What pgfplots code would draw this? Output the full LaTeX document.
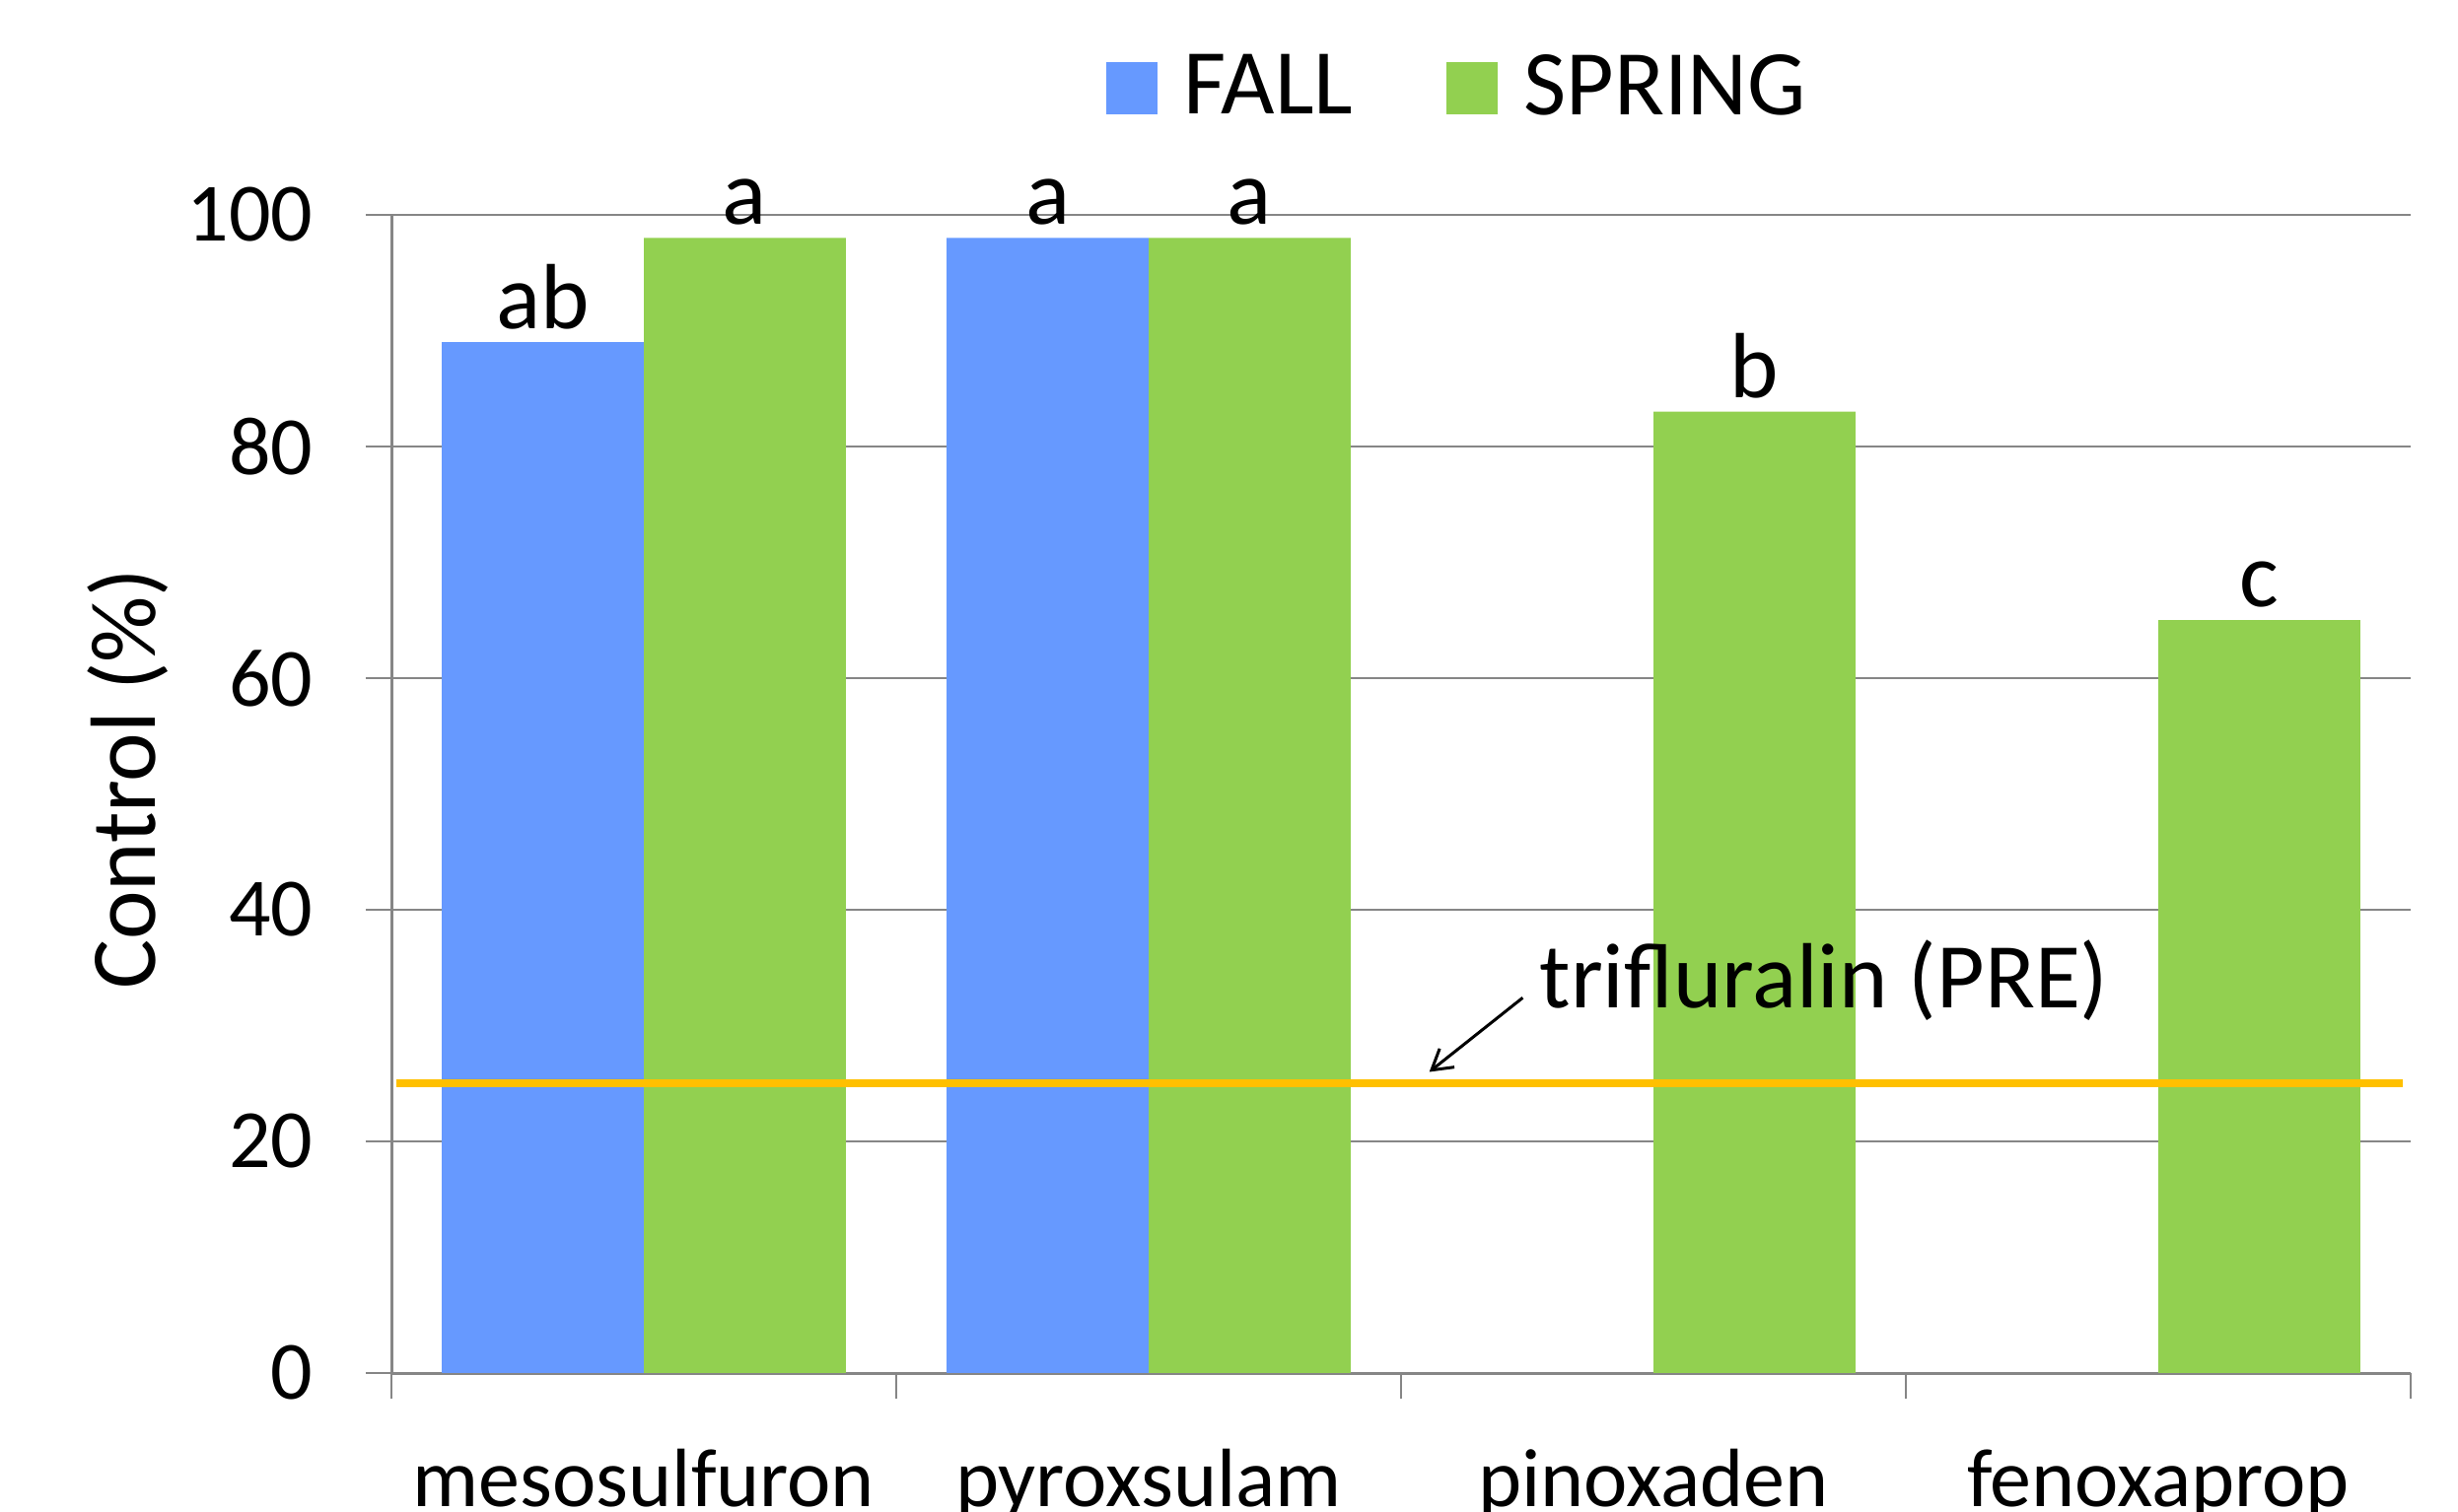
\documentclass[border=0pt]{standalone}
\usepackage{pgfplots}
\pgfplotsset{compat=1.18}
\usepackage{fontspec}
\setmainfont{Carlito}
\usetikzlibrary{arrows.meta}
\definecolor{fallc}{HTML}{6699FF}
\definecolor{springc}{HTML}{92D050}
\definecolor{goldc}{HTML}{FFC000}
\definecolor{gridc}{HTML}{868686}
\newcommand{\fbig}{\fontsize{23.5bp}{28bp}\selectfont}
\newcommand{\ftick}{\fontsize{21bp}{25bp}\selectfont}
\begin{document}
\begin{tikzpicture}
\useasboundingbox (0,0) rectangle (623.25bp,383.5bp);
\begin{axis}[
  at={(99.25bp,35.25bp)}, anchor=south west,
  scale only axis, width=512bp, height=293.75bp,
  xmin=-0.5, xmax=3.5, ymin=0, ymax=100,
  axis lines*=left,
  axis line style={gridc, line width=0.75bp},
  ymajorgrids, grid style={gridc, line width=0.6bp},
  ytick={0,20,...,100},
  xtick={-0.5,0.5,1.5,2.5,3.5}, xticklabels={},
  extra x ticks={0,1,2,3},
  extra x tick labels={mesosulfuron,pyroxsulam,pinoxaden,fenoxaprop},
  extra x tick style={major tick length=0pt,
    xticklabel style={anchor=base, inner sep=0pt, yshift=-33.75bp, font=\ftick}},
  tick align=outside, major tick length=6.5bp,
  tick style={gridc, line width=0.6bp},
  /pgf/number format/assume math mode=true,
  yticklabel style={anchor=east, inner sep=0pt, xshift=-13.25bp, font=\ftick},
  ylabel={Control (\%)},
  ylabel style={at={(axis description cs:-0.1306,0.513)}, anchor=center, font=\fbig},
  ybar, bar width=0.4,
  legend columns=2,
  legend image code/.code={\fill[#1] (0bp,-6.75bp) rectangle (13bp,6.5bp);},
  legend style={at={(axis description cs:0.3535,1.0809)}, anchor=south west,
    draw=none, fill=none, inner sep=0pt, font=\fbig,
    nodes={inner sep=0pt},
    /tikz/every odd column/.append style={column sep=6.75bp},
    /tikz/every even column/.append style={column sep=23.6bp}},
  barlabel/.style={nodes near coords, point meta=explicit symbolic,
    every node near coord/.append style={anchor=base, yshift=3.5bp, inner sep=0pt, font=\fbig, text=black}},
]
\addplot[fill=fallc, draw=none, bar shift=-0.2, barlabel] coordinates {(0,89) [ab] (1,98) [a]};
\addplot[fill=springc, draw=none, bar shift=0.2, barlabel] coordinates {(0,98) [a] (1,98) [a] (2,83) [b] (3,65) [c]};
\legend{FALL,SPRING}
\addplot[sharp plot, goldc, line width=2bp, forget plot] coordinates {(-0.49,25) (3.485,25)};
\node[anchor=base west, inner sep=0pt, font=\fbig] at (axis cs:1.773,31.5) {trifluralin (PRE)};
\draw[-{Straight Barb[length=5bp,width=6bp]}, line width=0.75bp] (axis cs:1.741,32.4) -- (axis cs:1.556,26.0);
\end{axis}
\end{tikzpicture}
\end{document}
